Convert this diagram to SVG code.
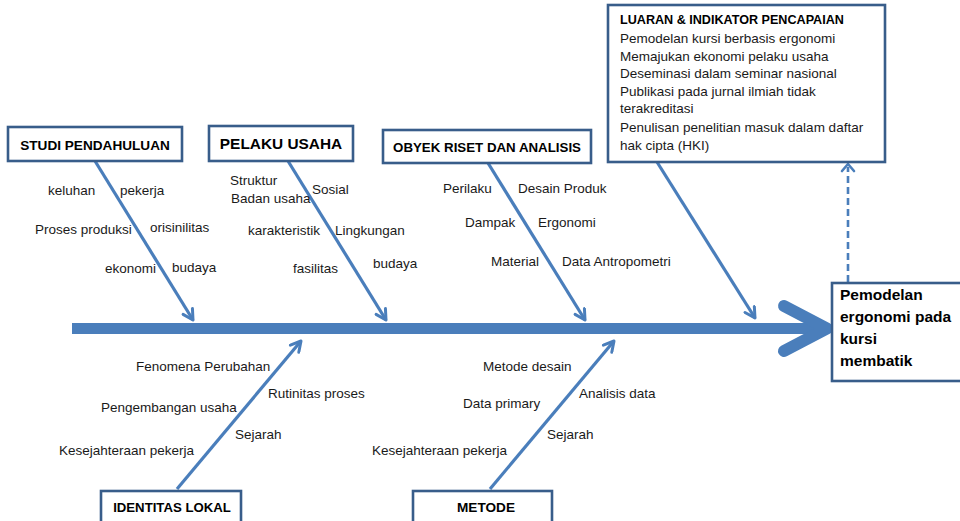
<svg xmlns="http://www.w3.org/2000/svg" width="960" height="521" viewBox="0 0 960 521">
<defs>
<style>
.box{fill:#fff;stroke:#385D8A;stroke-width:2.6}
.hd{font-family:"Liberation Sans",Arial,sans-serif;font-weight:bold;fill:#000}
.lb{font-family:"Liberation Sans",Arial,sans-serif;font-size:13.5px;fill:#1a1a1a}
.bone{stroke:#4A7EBB;stroke-width:3.2;fill:none;marker-end:url(#ah)}
</style>
<marker id="ah" markerUnits="userSpaceOnUse" viewBox="0 0 14 14" refX="12" refY="7" markerWidth="14" markerHeight="14" orient="auto">
<path d="M2,1.5 L12,7 L2,12.5" fill="none" stroke="#4A7EBB" stroke-width="3" stroke-linecap="round" stroke-linejoin="round"/>
</marker>
</defs>
<rect width="960" height="521" fill="#fff"/>
<g id="connectors">
<rect x="72" y="323" width="752" height="11" fill="#4A7EBB"/>
<path d="M784,306 L827,328.5 L784,351" fill="none" stroke="#4A7EBB" stroke-width="12" stroke-linecap="round" stroke-linejoin="round"/>
<line class="bone" x1="95" y1="161" x2="193" y2="320"/>
<line class="bone" x1="288" y1="161" x2="386" y2="320"/>
<line class="bone" x1="488" y1="163" x2="585" y2="320"/>
<line class="bone" x1="657" y1="162" x2="755" y2="318"/>
<line class="bone" x1="177" y1="489" x2="301" y2="341"/>
<line class="bone" x1="490" y1="489" x2="614" y2="341"/>
<line x1="848" y1="282" x2="848" y2="167" stroke="#4A7EBB" stroke-width="2.6" stroke-dasharray="7,4"/>
<path d="M842,171 L848,164 L854,171" fill="none" stroke="#4A7EBB" stroke-width="2.6" stroke-linecap="round" stroke-linejoin="round"/>
</g>
<g id="studi">
<rect class="box" x="8" y="127" width="174" height="34"/>
<text class="hd" x="95" y="150" font-size="13.6" text-anchor="middle">STUDI PENDAHULUAN</text>
<text class="lb" x="48" y="195">keluhan</text>
<text class="lb" x="120" y="195">pekerja</text>
<text class="lb" x="35" y="234">Proses produksi</text>
<text class="lb" x="150" y="232">orisinilitas</text>
<text class="lb" x="105" y="273">ekonomi</text>
<text class="lb" x="172" y="272">budaya</text>
</g>
<g id="pelaku">
<rect class="box" x="209" y="126" width="144" height="35"/>
<text class="hd" x="281" y="149" font-size="15.4" text-anchor="middle">PELAKU USAHA</text>
<text class="lb" x="230" y="185">Struktur</text>
<text class="lb" x="231" y="203">Badan usaha</text>
<text class="lb" x="312" y="194">Sosial</text>
<text class="lb" x="248" y="235">karakteristik</text>
<text class="lb" x="335" y="235">Lingkungan</text>
<text class="lb" x="293" y="273">fasilitas</text>
<text class="lb" x="373" y="268">budaya</text>
</g>
<g id="obyek">
<rect class="box" x="383" y="130" width="208" height="33"/>
<text class="hd" x="487" y="152" font-size="13.3" text-anchor="middle">OBYEK RISET DAN ANALISIS</text>
<text class="lb" x="443" y="193">Perilaku</text>
<text class="lb" x="518" y="193">Desain Produk</text>
<text class="lb" x="465" y="227">Dampak</text>
<text class="lb" x="538" y="227">Ergonomi</text>
<text class="lb" x="491" y="266">Material</text>
<text class="lb" x="562" y="266">Data Antropometri</text>
</g>
<g id="luaran">
<rect class="box" x="608" y="5" width="277" height="157"/>
<text class="hd" x="620" y="24" font-size="12.6">LUARAN &amp; INDIKATOR PENCAPAIAN</text>
<text class="lb" x="620" y="43">Pemodelan  kursi berbasis ergonomi</text>
<text class="lb" x="620" y="61">Memajukan  ekonomi  pelaku usaha</text>
<text class="lb" x="620" y="78">Deseminasi dalam seminar nasional</text>
<text class="lb" x="620" y="96">Publikasi pada jurnal ilmiah tidak</text>
<text class="lb" x="620" y="113">terakreditasi</text>
<text class="lb" x="620" y="132">Penulisan penelitian masuk dalam daftar</text>
<text class="lb" x="620" y="150">hak cipta (HKI)</text>
</g>
<g id="hasil">
<rect class="box" x="832" y="283" width="140" height="98"/>
<text class="hd" font-size="15.5"><tspan x="840" y="300">Pemodelan</tspan><tspan x="840" y="322">ergonomi pada</tspan><tspan x="840" y="344">kursi</tspan><tspan x="840" y="366">membatik</tspan></text>
</g>
<g id="identitas">
<rect class="box" x="101" y="491" width="140" height="40"/>
<text class="hd" x="172" y="512" font-size="13.2" text-anchor="middle">IDENTITAS LOKAL</text>
<text class="lb" x="136" y="371">Fenomena  Perubahan</text>
<text class="lb" x="268" y="398">Rutinitas proses</text>
<text class="lb" x="101" y="412">Pengembangan  usaha</text>
<text class="lb" x="235" y="439">Sejarah</text>
<text class="lb" x="59" y="455">Kesejahteraan  pekerja</text>
</g>
<g id="metode">
<rect class="box" x="413" y="491" width="139" height="40"/>
<text class="hd" x="486" y="512" font-size="13.6" text-anchor="middle">METODE</text>
<text class="lb" x="483" y="371">Metode  desain</text>
<text class="lb" x="579" y="398">Analisis data</text>
<text class="lb" x="463" y="408">Data primary</text>
<text class="lb" x="547" y="439">Sejarah</text>
<text class="lb" x="372" y="455">Kesejahteraan pekerja</text>
</g>
</svg>
